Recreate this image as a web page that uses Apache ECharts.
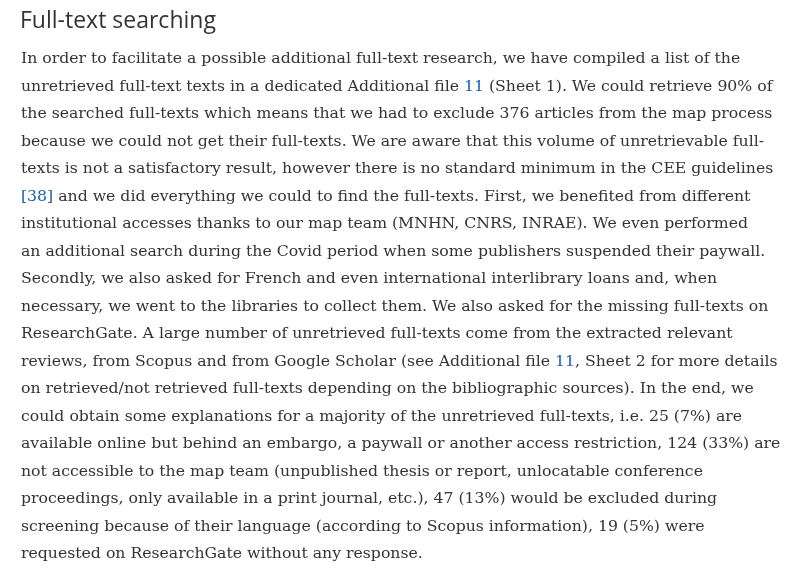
<!DOCTYPE html>
<html>
<head>
<meta charset="utf-8">
<script src="https://cdn.jsdelivr.net/npm/echarts@6/dist/echarts.min.js"></script>
<style>
  html, body { margin: 0; padding: 0; background: #fff; }
  #main { width: 803px; height: 573px; }
</style>
</head>
<body>
<div id="main"></div>
<script>
var heading = 'Full-text searching'

// body lines; {link|..} marks the blue references
var lines = [
  'In order to facilitate a possible additional full-text research, we have compiled a list of the',
  'unretrieved full-text texts in a dedicated Additional file {link|11} (Sheet 1). We could retrieve 90% of',
  'the searched full-texts which means that we had to exclude 376 articles from the map process',
  'because we could not get their full-texts. We are aware that this volume of unretrievable full-',
  'texts is not a satisfactory result, however there is no standard minimum in the CEE guidelines',
  '{link|[38]} and we did everything we could to find the full-texts. First, we benefited from different',
  'institutional accesses thanks to our map team (MNHN, CNRS, INRAE). We even performed',
  'an additional search during the Covid period when some publishers suspended their paywall.',
  'Secondly, we also asked for French and even international interlibrary loans and, when',
  'necessary, we went to the libraries to collect them. We also asked for the missing full-texts on',
  'ResearchGate. A large number of unretrieved full-texts come from the extracted relevant',
  'reviews, from Scopus and from Google Scholar (see Additional file {link|11}, Sheet 2 for more details',
  'on retrieved/not retrieved full-texts depending on the bibliographic sources). In the end, we',
  'could obtain some explanations for a majority of the unretrieved full-texts, i.e. 25 (7%) are',
  'available online but behind an embargo, a paywall or another access restriction, 124 (33%) are',
  'not accessible to the map team (unpublished thesis or report, unlocatable conference',
  'proceedings, only available in a print journal, etc.), 47 (13%) would be excluded during',
  'screening because of their language (according to Scopus information), 19 (5%) were',
  'requested on ResearchGate without any response.'
]

var chart = echarts.init(document.getElementById('main'))

var bodyFont = '"DejaVu Serif", serif'
var elements = [{
  type: 'text',
  left: 20,
  top: 10,
  style: {
    text: heading,
    font: '23px "Open Sans", "Noto Sans", sans-serif',
    fill: '#333'
  }
}]

lines.forEach(function (t, i) {
  elements.push({
    type: 'text',
    left: 21,
    top: 51 + i * 27.5,
    style: {
      text: t,
      font: '15.7px ' + bodyFont,
      fill: '#333',
      rich: {
        link: {
          fontFamily: bodyFont,
          fontSize: 15.7,
          fill: '#1a5fa8',
          color: '#1a5fa8'
        }
      }
    }
  })
})

chart.setOption({
  animation: false,
  graphic: { elements: elements }
})
</script>
</body>
</html>
